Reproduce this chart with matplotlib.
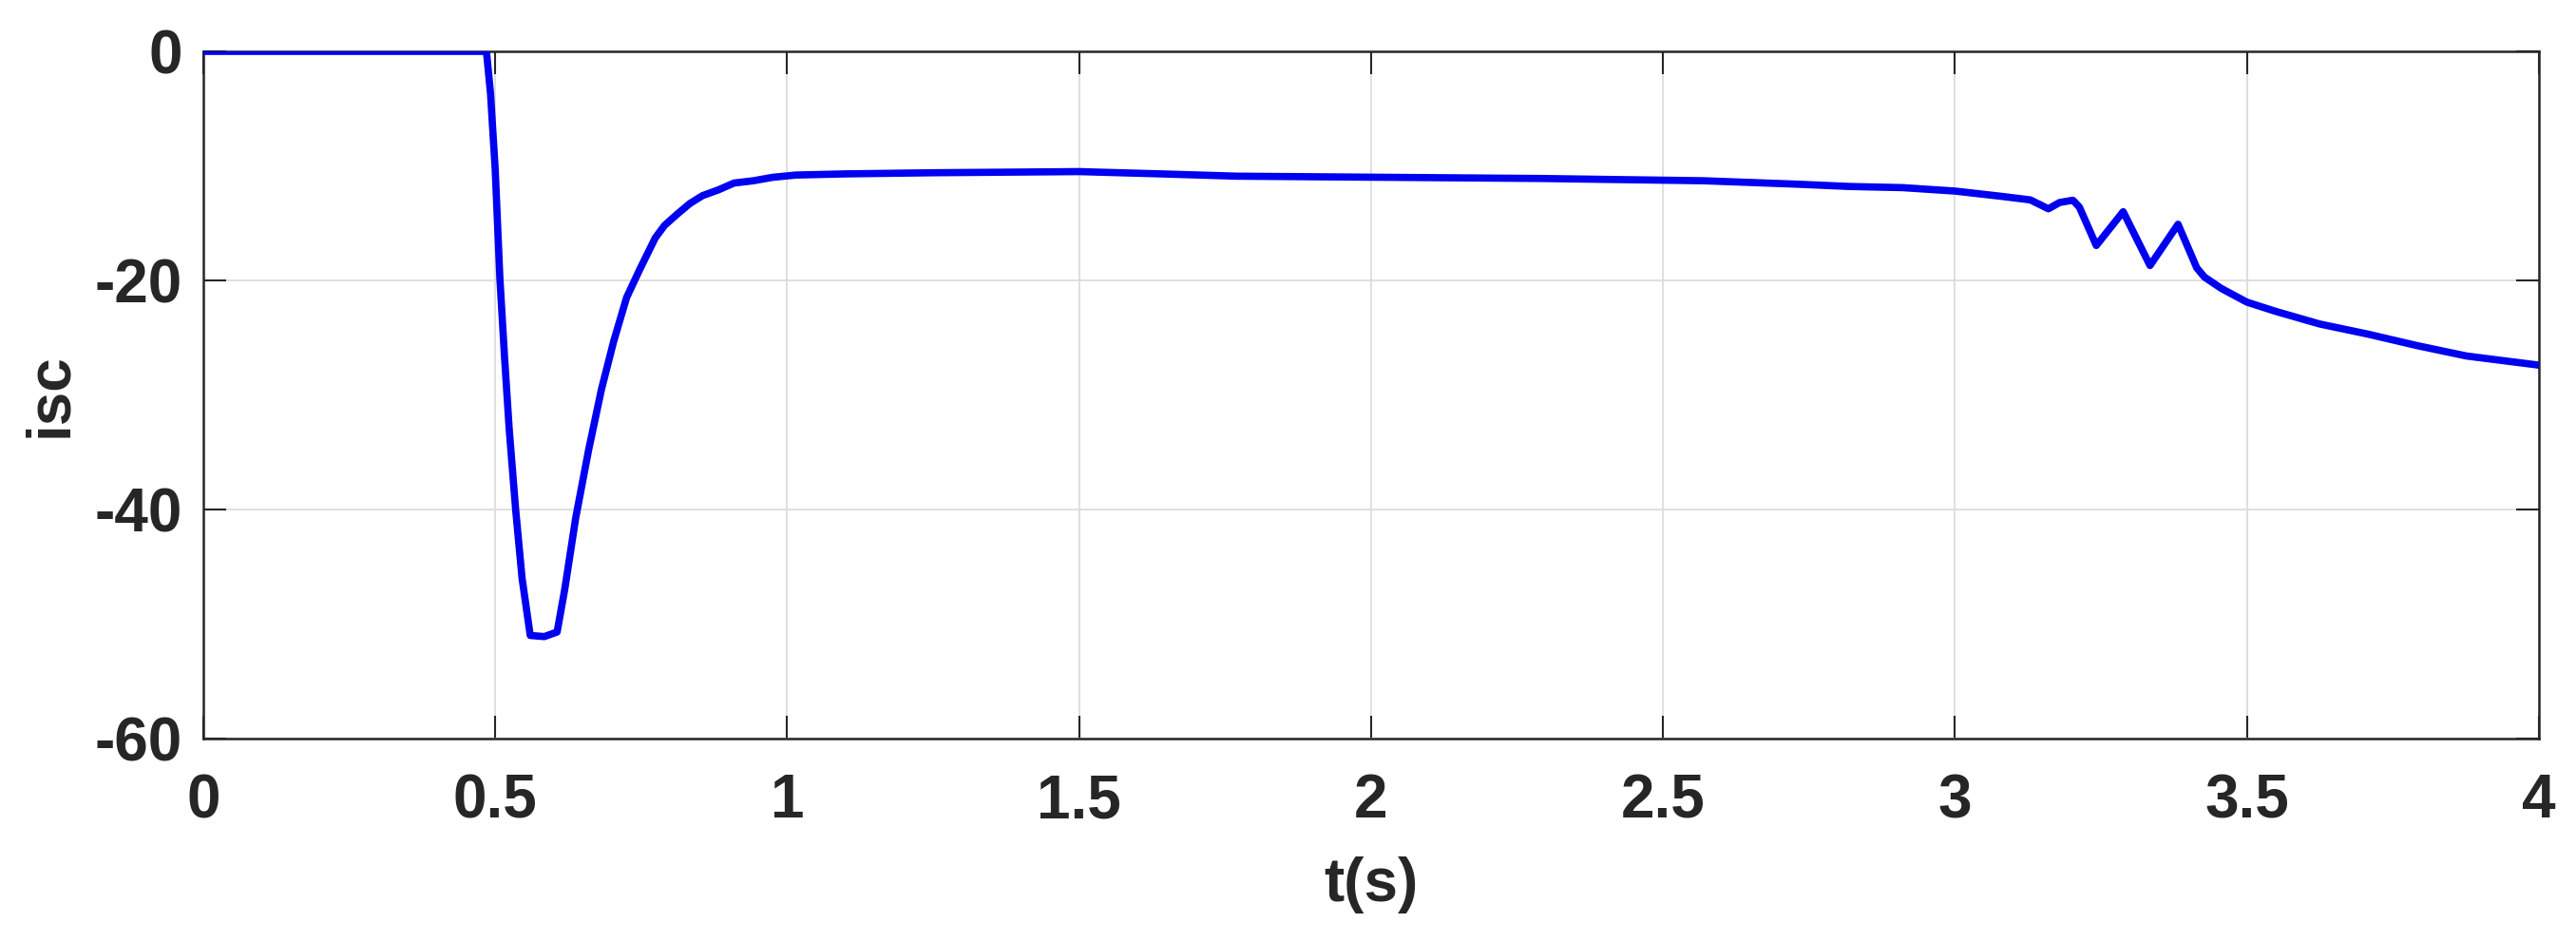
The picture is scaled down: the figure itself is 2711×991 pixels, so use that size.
import matplotlib
matplotlib.use("Agg")
import matplotlib.pyplot as plt

# time (s) and short-circuit current
t = [0, 0.485, 0.492, 0.5, 0.508, 0.516, 0.524, 0.535, 0.546, 0.560,
     0.584, 0.606, 0.619, 0.638, 0.660, 0.682, 0.703, 0.725, 0.747, 0.774,
     0.790, 0.812, 0.833, 0.855, 0.882, 0.909, 0.942, 0.975, 1.015, 1.10,
     1.25, 1.5, 1.64, 1.77, 2.29, 2.57, 2.73, 2.82, 2.91, 3.0,
     3.078, 3.129, 3.160, 3.179, 3.202, 3.213, 3.242, 3.288, 3.334, 3.382,
     3.414, 3.427, 3.456, 3.5, 3.549, 3.624, 3.708, 3.792, 3.876, 4.0]
isc = [0, 0, -3.7, -10.3, -19.8, -26.7, -33.0, -40.0, -46.0, -51.0,
       -51.1, -50.7, -47.0, -40.7, -34.8, -29.5, -25.3, -21.5, -19.1, -16.3,
       -15.2, -14.2, -13.3, -12.6, -12.1, -11.5, -11.3, -11.0, -10.8, -10.7,
       -10.6, -10.5, -10.7, -10.9, -11.1, -11.3, -11.6, -11.8, -11.9, -12.2,
       -12.65, -12.97, -13.75, -13.2, -13.0, -13.6, -16.95, -14.0, -18.7, -15.1,
       -18.9, -19.7, -20.7, -21.9, -22.7, -23.8, -24.7, -25.7, -26.6, -27.4]

xticks = [0, 0.5, 1, 1.5, 2, 2.5, 3, 3.5, 4]
xtick_labels = ["0", "0.5", "1", "1.5", "2", "2.5", "3", "3.5", "4"]
yticks = [-60, -40, -20, 0]

plt.rcParams['font.family'] = ['Liberation Sans', 'DejaVu Sans']
plt.rcParams['font.weight'] = 'bold'
plt.rcParams['axes.unicode_minus'] = False
txt = '#262626'

fig = plt.figure(figsize=(27.11, 9.91), dpi=100)
ax = fig.add_axes([0.0789, 0.216, 0.9067, 0.7295])

ax.plot(t, isc, color='#0000f0', linewidth=5.5, zorder=3)

ax.set_xlim(0, 4)
ax.set_ylim(-60, 0)
ax.set_xticks(xticks)
ax.set_xticklabels(xtick_labels)
ax.set_yticks(yticks)
ax.grid(True, color='#dcdcdc', linewidth=1.3)
ax.set_axisbelow(True)

ax.tick_params(direction='in', length=17, width=1.5, top=True, right=True,
               labelsize=46, colors=txt, labelcolor=txt)
ax.tick_params(axis='x', pad=26)
ax.tick_params(axis='y', pad=16)
for s in ax.spines.values():
    s.set_linewidth(1.8)
    s.set_color(txt)

ax.set_xlabel('t(s)', fontsize=46, fontweight='bold', color=txt, labelpad=20)
ax.set_ylabel('isc', fontsize=46, fontweight='bold', color=txt, labelpad=12)

fig.savefig('out.png', dpi=100)
